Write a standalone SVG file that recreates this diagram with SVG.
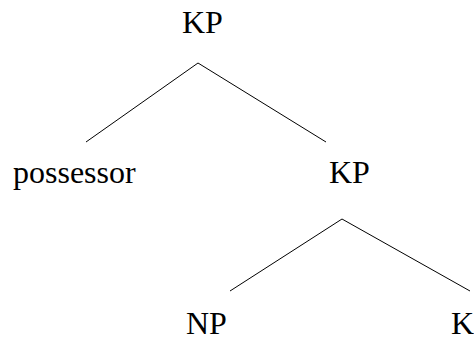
<svg xmlns="http://www.w3.org/2000/svg" width="474" height="339" viewBox="0 0 474 339">
<style>
.lbl{font-family:"Liberation Serif","Times New Roman",serif;font-size:32px;fill:#000}
.edge{stroke:#000;stroke-width:1;fill:none}
</style>
<rect width="474" height="339" fill="#fff"/>
<g id="connectors">
<line class="edge" x1="198" y1="63" x2="86" y2="142"/>
<line class="edge" x1="198" y1="63" x2="326" y2="142"/>
<line class="edge" x1="342" y1="219" x2="230" y2="291"/>
<line class="edge" x1="342" y1="219" x2="470" y2="291"/>
</g>
<g id="kp-root"><text class="lbl" x="182" y="33">KP</text></g>
<g id="possessor"><text class="lbl" x="13" y="183">possessor</text></g>
<g id="kp-inner"><text class="lbl" x="329" y="183">KP</text></g>
<g id="np"><text class="lbl" x="186" y="334">NP</text></g>
<g id="k"><text class="lbl" x="451" y="334">K</text></g>
</svg>
